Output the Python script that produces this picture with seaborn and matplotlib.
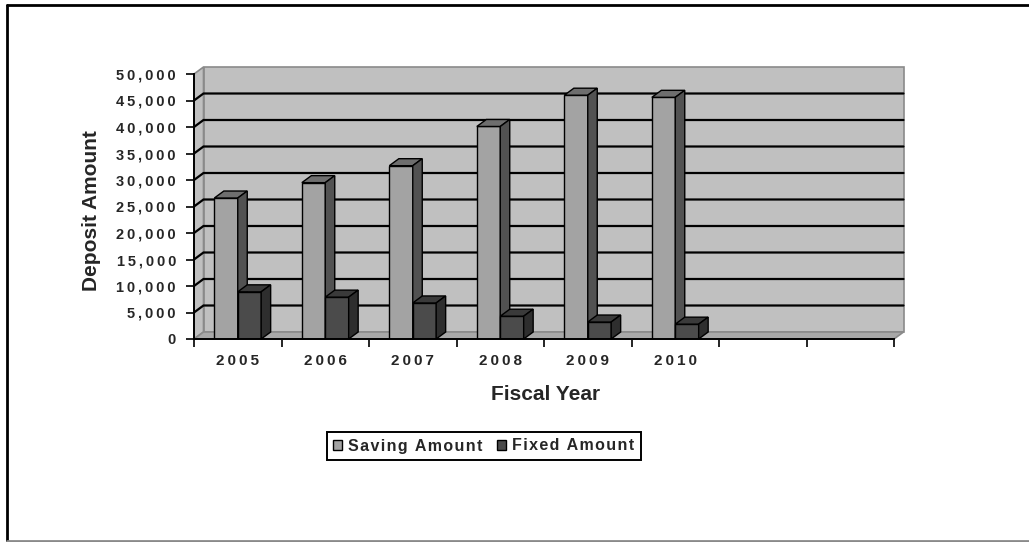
import numpy as np
import pandas as pd
import matplotlib
matplotlib.use("Agg")
import matplotlib.pyplot as plt
from matplotlib.patches import Polygon, Patch
from matplotlib.lines import Line2D
from matplotlib.ticker import FuncFormatter
import seaborn as sns

# ---- data -------------------------------------------------------------
years = ["2005", "2006", "2007", "2008", "2009", "2010"]
series = ["Saving Amount", "Fixed Amount"]
saving_amount = [26600, 29500, 32700, 40100, 46000, 45600]
fixed_amount = [8900, 7900, 6800, 4300, 3200, 2800]
y_ticks = list(range(0, 50001, 5000))
n_slots = 8  # category slots on the axis (two left empty)

df = pd.DataFrame({
    "Fiscal Year": years * 2,
    "Deposit Amount": saving_amount + fixed_amount,
    "Series": [series[0]] * len(years) + [series[1]] * len(years),
})

# face / top / side shades for each series
front_col = {"Saving Amount": "#A3A3A3", "Fixed Amount": "#4B4B4B"}
top_col = {"Saving Amount": "#6E6E6E", "Fixed Amount": "#3A3A3A"}
side_col = {"Saving Amount": "#525252", "Fixed Amount": "#2E2E2E"}

# ---- style ------------------------------------------------------------
sns.set_style("white")
plt.rcParams["font.family"] = ["Liberation Sans", "DejaVu Sans"]
plt.rcParams["font.weight"] = "bold"

W, H = 1029, 542
fig = plt.figure(figsize=(W / 100, H / 100), dpi=100, facecolor="white")

# plot frame (front plane of the 3-D box)
x_left, x_right, y_base, y_top = 194, 894, 339, 74
ax = fig.add_axes([x_left / W, (H - y_base) / H,
                   (x_right - x_left) / W, (y_base - y_top) / H])
ax.patch.set_visible(False)

sns.barplot(data=df, x="Fiscal Year", y="Deposit Amount", hue="Series",
            order=years, hue_order=series,
            palette=[front_col[s] for s in series], saturation=1,
            width=0.535, dodge=True, edgecolor="black", linewidth=1,
            legend=False, ax=ax)

xmin, xmax = -0.5, n_slots - 0.5
ymin, ymax = y_ticks[0], y_ticks[-1]
ax.set_xlim(xmin, xmax)
ax.set_ylim(ymin, ymax)
ax.grid(False)

# depth of the 3-D box, expressed in data units
depth_px = (9.5, 7.0)
ddx = depth_px[0] / ax.bbox.width * (xmax - xmin)
ddy = depth_px[1] / ax.bbox.height * (ymax - ymin)

# walls and floor
wall_kw = dict(closed=True, clip_on=False, edgecolor="#8A8A8A", linewidth=1.2)
ax.add_patch(Polygon([(xmin + ddx, ymin + ddy), (xmax + ddx, ymin + ddy),
                      (xmax + ddx, ymax + ddy), (xmin + ddx, ymax + ddy)],
                     facecolor="#C0C0C0", zorder=0.5, **wall_kw))
ax.add_patch(Polygon([(xmin, ymin), (xmin, ymax),
                      (xmin + ddx, ymax + ddy), (xmin + ddx, ymin + ddy)],
                     facecolor="#C0C0C0", zorder=0.5, **wall_kw))
ax.add_patch(Polygon([(xmin, ymin), (xmax, ymin),
                      (xmax + ddx, ymin + ddy), (xmin + ddx, ymin + ddy)],
                     facecolor="#A8A8A8", zorder=0.55, **wall_kw))

# gridlines on back and side walls
for v in y_ticks[1:-1]:
    ax.plot([xmin, xmin + ddx, xmax + ddx], [v, v + ddy, v + ddy],
            color="black", linewidth=1.6, zorder=0.6, clip_on=False,
            solid_joinstyle="miter")

# 3-D tops and sides of the bars
for k, (s, container) in enumerate(zip(series, ax.containers)):
    z = 2.0 + 0.5 * k
    for p in container.patches:
        p.set_zorder(z)
        x0, w, h = p.get_x(), p.get_width(), p.get_height()
        if not np.isfinite(h):
            continue
        top = [(x0, h), (x0 + w, h), (x0 + w + ddx, h + ddy), (x0 + ddx, h + ddy)]
        side = [(x0 + w, 0), (x0 + w, h), (x0 + w + ddx, h + ddy), (x0 + w + ddx, ddy)]
        for pts, col in ((top, top_col[s]), (side, side_col[s])):
            ax.add_patch(Polygon(pts, closed=True, facecolor=col,
                                 edgecolor="black", linewidth=1,
                                 zorder=z, clip_on=False))

# ---- axes -------------------------------------------------------------
for sp in ("top", "right"):
    ax.spines[sp].set_visible(False)
for sp in ("left", "bottom"):
    ax.spines[sp].set_color("black")
    ax.spines[sp].set_linewidth(1.4)
    ax.spines[sp].set_zorder(3)

thin = "\u2009"
ax.set_yticks(y_ticks)
ax.yaxis.set_major_formatter(
    FuncFormatter(lambda v, _: thin.join(f"{int(v):,}")))
ax.tick_params(axis="y", which="major", direction="out", length=6, width=1.2,
               color="black", pad=7, labelsize=10.5, left=True)

ax.set_xticks(np.arange(xmin, xmax + 0.01, 1.0))
ax.set_xticklabels([])
ax.set_xticks(np.arange(len(years)), minor=True)
ax.set_xticklabels([thin.join(y) for y in years], minor=True)
ax.tick_params(axis="x", which="major", direction="out", length=6, width=1.2,
               color="black", bottom=True)
ax.tick_params(axis="x", which="minor", length=0, pad=10.5, labelsize=11)
for lab in ax.get_xticklabels(minor=True) + ax.get_yticklabels():
    lab.set_fontweight("bold")

ax.set_ylabel("Deposit Amount", fontsize=15, fontweight="bold")
ax.yaxis.set_label_coords((91.5 - x_left) / (x_right - x_left),
                          (y_base - 210.5) / (y_base - y_top))
ax.yaxis.label.set_verticalalignment("center")
ax.set_xlabel("Fiscal Year", fontsize=15, fontweight="bold")
ax.xaxis.set_label_coords((546 - x_left) / (x_right - x_left),
                          (y_base - 394) / (y_base - y_top))
ax.xaxis.label.set_verticalalignment("center")

# ---- legend -----------------------------------------------------------
hair = "\u200a"
handles = [Patch(facecolor=front_col[s], edgecolor="black", linewidth=1,
                 label=hair.join(s)) for s in series]
leg = fig.legend(handles=handles, loc="center", ncol=2,
                 bbox_to_anchor=(483.5 / W, 1 - 446 / H),
                 prop={"size": 11.5, "weight": "bold"},
                 handlelength=0.6, handleheight=0.6, handletextpad=0.35,
                 columnspacing=0.9, borderpad=0.4, fancybox=False,
                 frameon=True, edgecolor="black", framealpha=1)
leg.get_frame().set_linewidth(1.4)

# ---- outer frame ------------------------------------------------------
fig.add_artist(Line2D([7 / W, 7 / W], [1.5 / H, 1 - 5 / H], color="black",
                      linewidth=2, transform=fig.transFigure))
fig.add_artist(Line2D([7 / W, 1.0], [1 - 5 / H, 1 - 5 / H], color="black",
                      linewidth=2, transform=fig.transFigure))
fig.add_artist(Line2D([7 / W, 1.0], [1.5 / H, 1.5 / H], color="#8A8A8A",
                      linewidth=2, transform=fig.transFigure))

fig.savefig("out.png", dpi=100, facecolor="white")
